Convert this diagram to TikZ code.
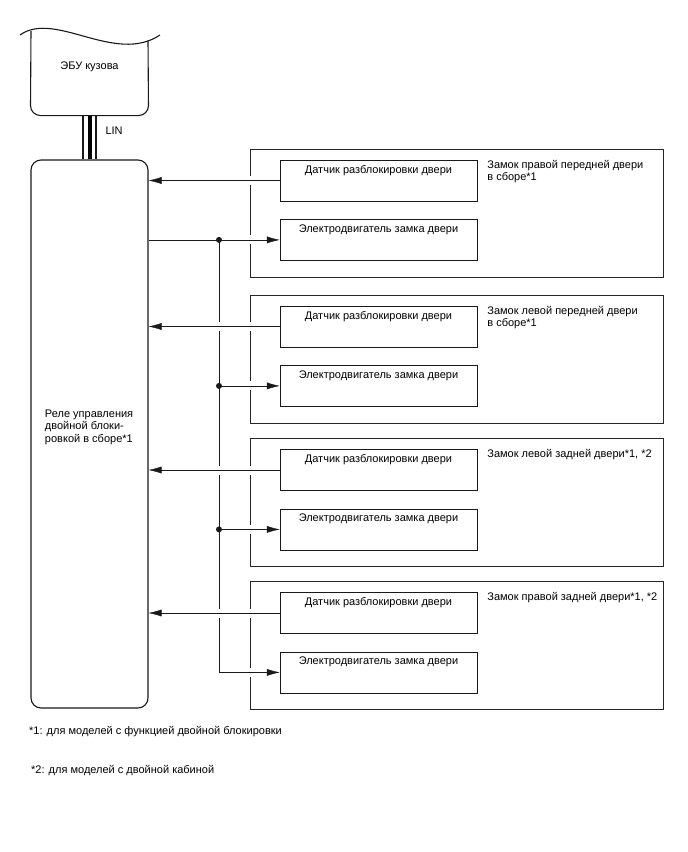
\documentclass[tikz,border=0pt]{standalone}
\usepackage{fontspec}
\setmainfont{Liberation Sans}
\usetikzlibrary{positioning, arrows.meta}
\pgfdeclarelayer{back}
\pgfdeclarelayer{wires}
\pgfsetlayers{back,wires,main}

\begin{document}
\begin{tikzpicture}[
  x=1pt, y=-1pt,
  font=\fontsize{11}{12.5}\selectfont,
  line width=1.1pt,
  unit/.style={draw=black!90, minimum width=117pt, inner sep=0pt},
  frame/.style={draw=black!85, minimum width=413pt, minimum height=128pt, inner sep=0pt},
  part/.style={draw=black!90, minimum width=197pt, inner xsep=0pt, inner ysep=2pt,
               text height=11pt, text depth=26pt},
  tag/.style={align=left, inner sep=0pt},
  wire/.style={-{Latex[length=13pt, width=7pt]}, draw=black!90,
               preaction={draw=white, line width=9pt, -}},
  dot/.style={circle, fill=black!90, inner sep=0pt, minimum size=6pt},
]
  \useasboundingbox (0,0) rectangle (688,852);

  % Body ECU with torn top edge
  \node[minimum width=117pt, minimum height=80pt, inner sep=0pt] (ecu) at (89.5,75) {};
  \draw[draw=black!90] (20,35) .. controls (55,10) and (115,65) .. (160,35);
  \draw[draw=black!90, rounded corners=10pt] (31,31) -- (ecu.south west) -- (ecu.south east) -- (148,40.5);
  \node[anchor=base] (ecutxt) at ([yshift=5.5pt]ecu.center) {ЭБУ кузова};

  % Double lock relay
  \node[unit, minimum height=548pt, rounded corners=10pt] (relay) at (89.5,434) {};
  \node[tag, anchor=west] (relaytxt) at ([xshift=14pt, yshift=7pt]relay.west)
    {Реле управления\\двойной блоки-\\ровкой в сборе*1};

  % LIN line
  \draw[draw=black!90] ([xshift=-6.5pt]ecu.south) -- ([xshift=-6.5pt]relay.north);
  \draw[draw=black!90] ([xshift=6.5pt]ecu.south) -- ([xshift=6.5pt]relay.north);
  \draw[line width=4.5pt] ([xshift=0.3pt]ecu.south) -- ([xshift=0.3pt]relay.north);
  \node[anchor=base west, inner sep=0pt] (lin) at (105,134) {LIN};

  % Door lock assemblies
  \begin{pgfonlayer}{back}
    \node[frame] (frA) at (456.5,213) {};
    \node[frame] (frB) at (456.5,359) {};
    \node[frame] (frC) at (456.5,502.5) {};
    \node[frame] (frD) at (456.5,645.5) {};
  \end{pgfonlayer}

  \node[part, below right=11pt and 30pt of frA.north west] (senA) {Датчик разблокировки двери};
  \node[part, below=18pt of senA] (motA) {Электродвигатель замка двери};
  \node[tag, below right=0pt and 10pt of senA.north east] (tagA) {Замок правой передней двери\\в сборе*1};

  \node[part, below right=11pt and 30pt of frB.north west] (senB) {Датчик разблокировки двери};
  \node[part, below=18pt of senB] (motB) {Электродвигатель замка двери};
  \node[tag, below right=0pt and 10pt of senB.north east] (tagB) {Замок левой передней двери\\в сборе*1};

  \node[part, below right=11pt and 30pt of frC.north west] (senC) {Датчик разблокировки двери};
  \node[part, below=18pt of senC] (motC) {Электродвигатель замка двери};
  \node[tag, below right=0pt and 10pt of senC.north east] (tagC) {Замок левой задней двери*1, *2};

  \node[part, below right=11pt and 30pt of frD.north west] (senD) {Датчик разблокировки двери};
  \node[part, below=18pt of senD] (motD) {Электродвигатель замка двери};
  \node[tag, below right=0pt and 10pt of senD.north east] (tagD) {Замок правой задней двери*1, *2};

  % Motor bus
  \coordinate (bus) at (219,0);
  \coordinate (jA) at (bus |- motA.west);
  \coordinate (jB) at (bus |- motB.west);
  \coordinate (jC) at (bus |- motC.west);
  \coordinate (jD) at (bus |- motD.west);

  \begin{pgfonlayer}{wires}
    \draw[wire] (relay.east |- motA.west) -- (motA.west);
    \draw[wire] (jB) -- (motB.west);
    \draw[wire] (jC) -- (motC.west);
    \draw[wire] (jD) -- (motD.west);
    \draw[draw=black!90] (jA) -- (jD);
    % Sensor signals back to relay
    \draw[wire] (senA.west) -- (senA.west -| relay.east);
    \draw[wire] (senB.west) -- (senB.west -| relay.east);
    \draw[wire] (senC.west) -- (senC.west -| relay.east);
    \draw[wire] (senD.west) -- (senD.west -| relay.east);
  \end{pgfonlayer}

  \node[dot] (dotA) at (jA) {};
  \node[dot] (dotB) at (jB) {};
  \node[dot] (dotC) at (jC) {};

  % Footnotes
  \node[anchor=base west, inner sep=0pt] (noteA) at (29,734) {*1: для моделей с функцией двойной блокировки};
  \node[anchor=base west, inner sep=0pt] (noteB) at (31,773) {*2: для моделей с двойной кабиной};
\end{tikzpicture}
\end{document}
